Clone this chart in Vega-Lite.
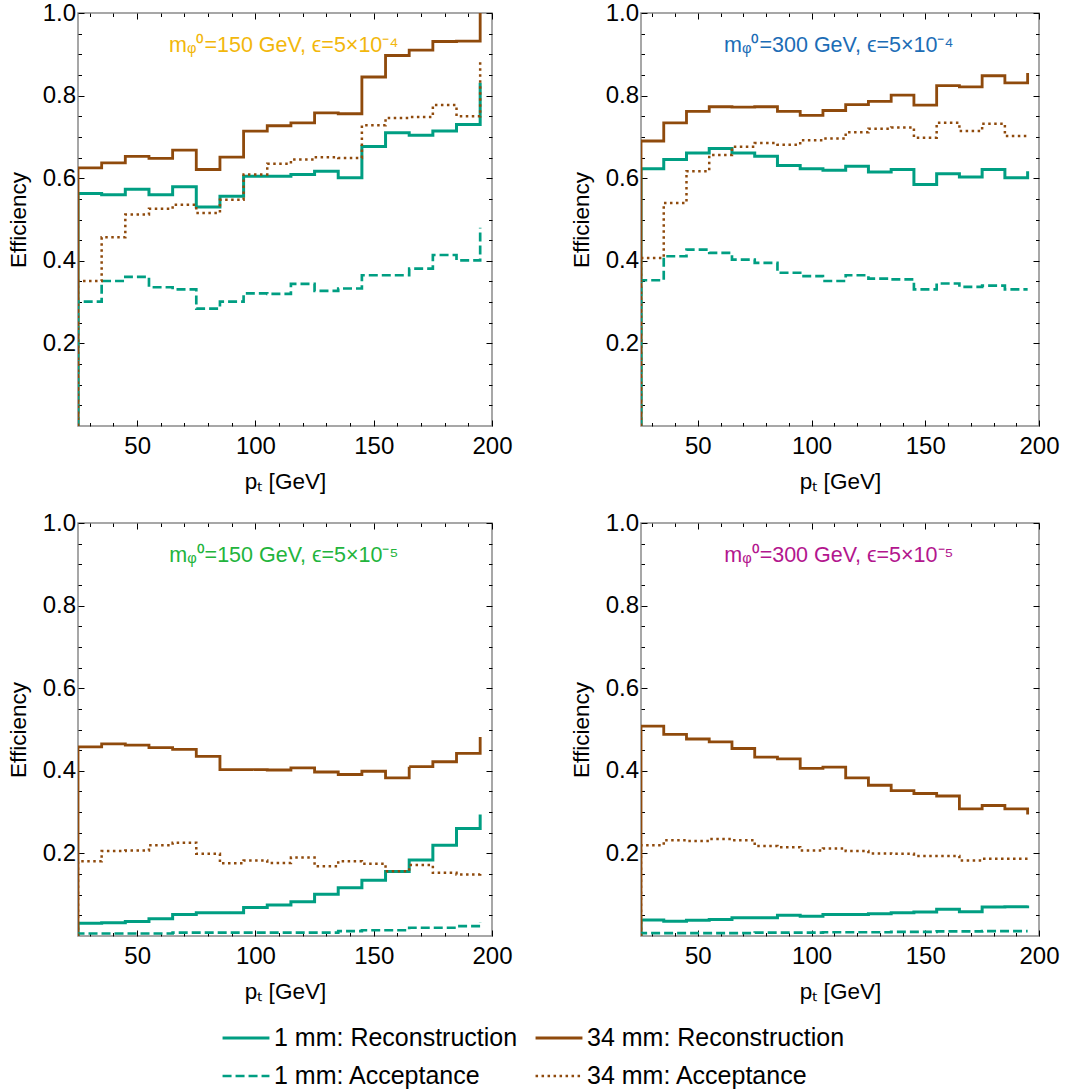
{
"$schema": "https://vega.github.io/schema/vega-lite/v6.json",
"padding": {"left": 6, "top": 0, "right": 0, "bottom": 0},
"datasets": {
"notes": [
{"panel":1,"pt":112,"eff":0.92,"label":"mᵩ⁰=150 GeV, ϵ=5×10⁻⁴"},
{"panel":2,"pt":112,"eff":0.92,"label":"mᵩ⁰=300 GeV, ϵ=5×10⁻⁴"},
{"panel":3,"pt":112,"eff":0.92,"label":"mᵩ⁰=150 GeV, ϵ=5×10⁻⁵"},
{"panel":4,"pt":112,"eff":0.92,"label":"mᵩ⁰=300 GeV, ϵ=5×10⁻⁵"}
],
"curves": [
{"panel":1,"series":"1 mm: Reconstruction","i":0,"pt":25,"eff":0},
{"panel":1,"series":"1 mm: Reconstruction","i":1,"pt":25,"eff":0.563},
{"panel":1,"series":"1 mm: Reconstruction","i":2,"pt":35,"eff":0.560},
{"panel":1,"series":"1 mm: Reconstruction","i":3,"pt":45,"eff":0.573},
{"panel":1,"series":"1 mm: Reconstruction","i":4,"pt":55,"eff":0.560},
{"panel":1,"series":"1 mm: Reconstruction","i":5,"pt":65,"eff":0.579},
{"panel":1,"series":"1 mm: Reconstruction","i":6,"pt":75,"eff":0.530},
{"panel":1,"series":"1 mm: Reconstruction","i":7,"pt":85,"eff":0.556},
{"panel":1,"series":"1 mm: Reconstruction","i":8,"pt":95,"eff":0.605},
{"panel":1,"series":"1 mm: Reconstruction","i":9,"pt":105,"eff":0.605},
{"panel":1,"series":"1 mm: Reconstruction","i":10,"pt":115,"eff":0.609},
{"panel":1,"series":"1 mm: Reconstruction","i":11,"pt":125,"eff":0.617},
{"panel":1,"series":"1 mm: Reconstruction","i":12,"pt":135,"eff":0.601},
{"panel":1,"series":"1 mm: Reconstruction","i":13,"pt":145,"eff":0.677},
{"panel":1,"series":"1 mm: Reconstruction","i":14,"pt":155,"eff":0.710},
{"panel":1,"series":"1 mm: Reconstruction","i":15,"pt":165,"eff":0.704},
{"panel":1,"series":"1 mm: Reconstruction","i":16,"pt":175,"eff":0.714},
{"panel":1,"series":"1 mm: Reconstruction","i":17,"pt":185,"eff":0.730},
{"panel":1,"series":"1 mm: Reconstruction","i":18,"pt":195,"eff":0.831},
{"panel":1,"series":"34 mm: Reconstruction","i":0,"pt":25,"eff":0},
{"panel":1,"series":"34 mm: Reconstruction","i":1,"pt":25,"eff":0.625},
{"panel":1,"series":"34 mm: Reconstruction","i":2,"pt":35,"eff":0.637},
{"panel":1,"series":"34 mm: Reconstruction","i":3,"pt":45,"eff":0.653},
{"panel":1,"series":"34 mm: Reconstruction","i":4,"pt":55,"eff":0.648},
{"panel":1,"series":"34 mm: Reconstruction","i":5,"pt":65,"eff":0.668},
{"panel":1,"series":"34 mm: Reconstruction","i":6,"pt":75,"eff":0.621},
{"panel":1,"series":"34 mm: Reconstruction","i":7,"pt":85,"eff":0.651},
{"panel":1,"series":"34 mm: Reconstruction","i":8,"pt":95,"eff":0.714},
{"panel":1,"series":"34 mm: Reconstruction","i":9,"pt":105,"eff":0.727},
{"panel":1,"series":"34 mm: Reconstruction","i":10,"pt":115,"eff":0.734},
{"panel":1,"series":"34 mm: Reconstruction","i":11,"pt":125,"eff":0.758},
{"panel":1,"series":"34 mm: Reconstruction","i":12,"pt":135,"eff":0.756},
{"panel":1,"series":"34 mm: Reconstruction","i":13,"pt":145,"eff":0.845},
{"panel":1,"series":"34 mm: Reconstruction","i":14,"pt":155,"eff":0.897},
{"panel":1,"series":"34 mm: Reconstruction","i":15,"pt":165,"eff":0.910},
{"panel":1,"series":"34 mm: Reconstruction","i":16,"pt":175,"eff":0.931},
{"panel":1,"series":"34 mm: Reconstruction","i":17,"pt":185,"eff":0.932},
{"panel":1,"series":"34 mm: Reconstruction","i":18,"pt":195,"eff":1.0},
{"panel":1,"series":"1 mm: Acceptance","i":0,"pt":25,"eff":0},
{"panel":1,"series":"1 mm: Acceptance","i":1,"pt":25,"eff":0.301},
{"panel":1,"series":"1 mm: Acceptance","i":2,"pt":35,"eff":0.351},
{"panel":1,"series":"1 mm: Acceptance","i":3,"pt":45,"eff":0.361},
{"panel":1,"series":"1 mm: Acceptance","i":4,"pt":55,"eff":0.336},
{"panel":1,"series":"1 mm: Acceptance","i":5,"pt":65,"eff":0.331},
{"panel":1,"series":"1 mm: Acceptance","i":6,"pt":75,"eff":0.284},
{"panel":1,"series":"1 mm: Acceptance","i":7,"pt":85,"eff":0.301},
{"panel":1,"series":"1 mm: Acceptance","i":8,"pt":95,"eff":0.321},
{"panel":1,"series":"1 mm: Acceptance","i":9,"pt":105,"eff":0.320},
{"panel":1,"series":"1 mm: Acceptance","i":10,"pt":115,"eff":0.344},
{"panel":1,"series":"1 mm: Acceptance","i":11,"pt":125,"eff":0.327},
{"panel":1,"series":"1 mm: Acceptance","i":12,"pt":135,"eff":0.333},
{"panel":1,"series":"1 mm: Acceptance","i":13,"pt":145,"eff":0.365},
{"panel":1,"series":"1 mm: Acceptance","i":14,"pt":155,"eff":0.365},
{"panel":1,"series":"1 mm: Acceptance","i":15,"pt":165,"eff":0.381},
{"panel":1,"series":"1 mm: Acceptance","i":16,"pt":175,"eff":0.414},
{"panel":1,"series":"1 mm: Acceptance","i":17,"pt":185,"eff":0.401},
{"panel":1,"series":"1 mm: Acceptance","i":18,"pt":195,"eff":0.480},
{"panel":1,"series":"34 mm: Acceptance","i":0,"pt":25,"eff":0},
{"panel":1,"series":"34 mm: Acceptance","i":1,"pt":25,"eff":0.351},
{"panel":1,"series":"34 mm: Acceptance","i":2,"pt":35,"eff":0.457},
{"panel":1,"series":"34 mm: Acceptance","i":3,"pt":45,"eff":0.512},
{"panel":1,"series":"34 mm: Acceptance","i":4,"pt":55,"eff":0.526},
{"panel":1,"series":"34 mm: Acceptance","i":5,"pt":65,"eff":0.536},
{"panel":1,"series":"34 mm: Acceptance","i":6,"pt":75,"eff":0.516},
{"panel":1,"series":"34 mm: Acceptance","i":7,"pt":85,"eff":0.548},
{"panel":1,"series":"34 mm: Acceptance","i":8,"pt":95,"eff":0.609},
{"panel":1,"series":"34 mm: Acceptance","i":9,"pt":105,"eff":0.635},
{"panel":1,"series":"34 mm: Acceptance","i":10,"pt":115,"eff":0.645},
{"panel":1,"series":"34 mm: Acceptance","i":11,"pt":125,"eff":0.651},
{"panel":1,"series":"34 mm: Acceptance","i":12,"pt":135,"eff":0.649},
{"panel":1,"series":"34 mm: Acceptance","i":13,"pt":145,"eff":0.728},
{"panel":1,"series":"34 mm: Acceptance","i":14,"pt":155,"eff":0.746},
{"panel":1,"series":"34 mm: Acceptance","i":15,"pt":165,"eff":0.748},
{"panel":1,"series":"34 mm: Acceptance","i":16,"pt":175,"eff":0.777},
{"panel":1,"series":"34 mm: Acceptance","i":17,"pt":185,"eff":0.750},
{"panel":1,"series":"34 mm: Acceptance","i":18,"pt":195,"eff":0.883},
{"panel":2,"series":"1 mm: Reconstruction","i":0,"pt":25,"eff":0},
{"panel":2,"series":"1 mm: Reconstruction","i":1,"pt":25,"eff":0.623},
{"panel":2,"series":"1 mm: Reconstruction","i":2,"pt":35,"eff":0.645},
{"panel":2,"series":"1 mm: Reconstruction","i":3,"pt":45,"eff":0.661},
{"panel":2,"series":"1 mm: Reconstruction","i":4,"pt":55,"eff":0.672},
{"panel":2,"series":"1 mm: Reconstruction","i":5,"pt":65,"eff":0.661},
{"panel":2,"series":"1 mm: Reconstruction","i":6,"pt":75,"eff":0.653},
{"panel":2,"series":"1 mm: Reconstruction","i":7,"pt":85,"eff":0.631},
{"panel":2,"series":"1 mm: Reconstruction","i":8,"pt":95,"eff":0.623},
{"panel":2,"series":"1 mm: Reconstruction","i":9,"pt":105,"eff":0.619},
{"panel":2,"series":"1 mm: Reconstruction","i":10,"pt":115,"eff":0.629},
{"panel":2,"series":"1 mm: Reconstruction","i":11,"pt":125,"eff":0.615},
{"panel":2,"series":"1 mm: Reconstruction","i":12,"pt":135,"eff":0.621},
{"panel":2,"series":"1 mm: Reconstruction","i":13,"pt":145,"eff":0.585},
{"panel":2,"series":"1 mm: Reconstruction","i":14,"pt":155,"eff":0.611},
{"panel":2,"series":"1 mm: Reconstruction","i":15,"pt":165,"eff":0.603},
{"panel":2,"series":"1 mm: Reconstruction","i":16,"pt":175,"eff":0.621},
{"panel":2,"series":"1 mm: Reconstruction","i":17,"pt":185,"eff":0.601},
{"panel":2,"series":"1 mm: Reconstruction","i":18,"pt":195,"eff":0.617},
{"panel":2,"series":"34 mm: Reconstruction","i":0,"pt":25,"eff":0},
{"panel":2,"series":"34 mm: Reconstruction","i":1,"pt":25,"eff":0.690},
{"panel":2,"series":"34 mm: Reconstruction","i":2,"pt":35,"eff":0.734},
{"panel":2,"series":"34 mm: Reconstruction","i":3,"pt":45,"eff":0.762},
{"panel":2,"series":"34 mm: Reconstruction","i":4,"pt":55,"eff":0.773},
{"panel":2,"series":"34 mm: Reconstruction","i":5,"pt":65,"eff":0.772},
{"panel":2,"series":"34 mm: Reconstruction","i":6,"pt":75,"eff":0.773},
{"panel":2,"series":"34 mm: Reconstruction","i":7,"pt":85,"eff":0.762},
{"panel":2,"series":"34 mm: Reconstruction","i":8,"pt":95,"eff":0.752},
{"panel":2,"series":"34 mm: Reconstruction","i":9,"pt":105,"eff":0.764},
{"panel":2,"series":"34 mm: Reconstruction","i":10,"pt":115,"eff":0.778},
{"panel":2,"series":"34 mm: Reconstruction","i":11,"pt":125,"eff":0.786},
{"panel":2,"series":"34 mm: Reconstruction","i":12,"pt":135,"eff":0.801},
{"panel":2,"series":"34 mm: Reconstruction","i":13,"pt":145,"eff":0.777},
{"panel":2,"series":"34 mm: Reconstruction","i":14,"pt":155,"eff":0.824},
{"panel":2,"series":"34 mm: Reconstruction","i":15,"pt":165,"eff":0.821},
{"panel":2,"series":"34 mm: Reconstruction","i":16,"pt":175,"eff":0.848},
{"panel":2,"series":"34 mm: Reconstruction","i":17,"pt":185,"eff":0.831},
{"panel":2,"series":"34 mm: Reconstruction","i":18,"pt":195,"eff":0.855},
{"panel":2,"series":"1 mm: Acceptance","i":0,"pt":25,"eff":0},
{"panel":2,"series":"1 mm: Acceptance","i":1,"pt":25,"eff":0.353},
{"panel":2,"series":"1 mm: Acceptance","i":2,"pt":35,"eff":0.411},
{"panel":2,"series":"1 mm: Acceptance","i":3,"pt":45,"eff":0.427},
{"panel":2,"series":"1 mm: Acceptance","i":4,"pt":55,"eff":0.419},
{"panel":2,"series":"1 mm: Acceptance","i":5,"pt":65,"eff":0.403},
{"panel":2,"series":"1 mm: Acceptance","i":6,"pt":75,"eff":0.395},
{"panel":2,"series":"1 mm: Acceptance","i":7,"pt":85,"eff":0.371},
{"panel":2,"series":"1 mm: Acceptance","i":8,"pt":95,"eff":0.363},
{"panel":2,"series":"1 mm: Acceptance","i":9,"pt":105,"eff":0.351},
{"panel":2,"series":"1 mm: Acceptance","i":10,"pt":115,"eff":0.365},
{"panel":2,"series":"1 mm: Acceptance","i":11,"pt":125,"eff":0.357},
{"panel":2,"series":"1 mm: Acceptance","i":12,"pt":135,"eff":0.355},
{"panel":2,"series":"1 mm: Acceptance","i":13,"pt":145,"eff":0.331},
{"panel":2,"series":"1 mm: Acceptance","i":14,"pt":155,"eff":0.345},
{"panel":2,"series":"1 mm: Acceptance","i":15,"pt":165,"eff":0.337},
{"panel":2,"series":"1 mm: Acceptance","i":16,"pt":175,"eff":0.340},
{"panel":2,"series":"1 mm: Acceptance","i":17,"pt":185,"eff":0.331},
{"panel":2,"series":"1 mm: Acceptance","i":18,"pt":195,"eff":0.331},
{"panel":2,"series":"34 mm: Acceptance","i":0,"pt":25,"eff":0},
{"panel":2,"series":"34 mm: Acceptance","i":1,"pt":25,"eff":0.407},
{"panel":2,"series":"34 mm: Acceptance","i":2,"pt":35,"eff":0.540},
{"panel":2,"series":"34 mm: Acceptance","i":3,"pt":45,"eff":0.617},
{"panel":2,"series":"34 mm: Acceptance","i":4,"pt":55,"eff":0.656},
{"panel":2,"series":"34 mm: Acceptance","i":5,"pt":65,"eff":0.676},
{"panel":2,"series":"34 mm: Acceptance","i":6,"pt":75,"eff":0.685},
{"panel":2,"series":"34 mm: Acceptance","i":7,"pt":85,"eff":0.681},
{"panel":2,"series":"34 mm: Acceptance","i":8,"pt":95,"eff":0.692},
{"panel":2,"series":"34 mm: Acceptance","i":9,"pt":105,"eff":0.696},
{"panel":2,"series":"34 mm: Acceptance","i":10,"pt":115,"eff":0.711},
{"panel":2,"series":"34 mm: Acceptance","i":11,"pt":125,"eff":0.720},
{"panel":2,"series":"34 mm: Acceptance","i":12,"pt":135,"eff":0.723},
{"panel":2,"series":"34 mm: Acceptance","i":13,"pt":145,"eff":0.698},
{"panel":2,"series":"34 mm: Acceptance","i":14,"pt":155,"eff":0.734},
{"panel":2,"series":"34 mm: Acceptance","i":15,"pt":165,"eff":0.714},
{"panel":2,"series":"34 mm: Acceptance","i":16,"pt":175,"eff":0.732},
{"panel":2,"series":"34 mm: Acceptance","i":17,"pt":185,"eff":0.702},
{"panel":2,"series":"34 mm: Acceptance","i":18,"pt":195,"eff":0.702},
{"panel":3,"series":"1 mm: Reconstruction","i":0,"pt":25,"eff":0},
{"panel":3,"series":"1 mm: Reconstruction","i":1,"pt":25,"eff":0.031},
{"panel":3,"series":"1 mm: Reconstruction","i":2,"pt":35,"eff":0.032},
{"panel":3,"series":"1 mm: Reconstruction","i":3,"pt":45,"eff":0.035},
{"panel":3,"series":"1 mm: Reconstruction","i":4,"pt":55,"eff":0.042},
{"panel":3,"series":"1 mm: Reconstruction","i":5,"pt":65,"eff":0.052},
{"panel":3,"series":"1 mm: Reconstruction","i":6,"pt":75,"eff":0.056},
{"panel":3,"series":"1 mm: Reconstruction","i":7,"pt":85,"eff":0.056},
{"panel":3,"series":"1 mm: Reconstruction","i":8,"pt":95,"eff":0.069},
{"panel":3,"series":"1 mm: Reconstruction","i":9,"pt":105,"eff":0.075},
{"panel":3,"series":"1 mm: Reconstruction","i":10,"pt":115,"eff":0.083},
{"panel":3,"series":"1 mm: Reconstruction","i":11,"pt":125,"eff":0.101},
{"panel":3,"series":"1 mm: Reconstruction","i":12,"pt":135,"eff":0.117},
{"panel":3,"series":"1 mm: Reconstruction","i":13,"pt":145,"eff":0.135},
{"panel":3,"series":"1 mm: Reconstruction","i":14,"pt":155,"eff":0.156},
{"panel":3,"series":"1 mm: Reconstruction","i":15,"pt":165,"eff":0.184},
{"panel":3,"series":"1 mm: Reconstruction","i":16,"pt":175,"eff":0.220},
{"panel":3,"series":"1 mm: Reconstruction","i":17,"pt":185,"eff":0.260},
{"panel":3,"series":"1 mm: Reconstruction","i":18,"pt":195,"eff":0.294},
{"panel":3,"series":"34 mm: Reconstruction","i":0,"pt":25,"eff":0},
{"panel":3,"series":"34 mm: Reconstruction","i":1,"pt":25,"eff":0.458},
{"panel":3,"series":"34 mm: Reconstruction","i":2,"pt":35,"eff":0.465},
{"panel":3,"series":"34 mm: Reconstruction","i":3,"pt":45,"eff":0.462},
{"panel":3,"series":"34 mm: Reconstruction","i":4,"pt":55,"eff":0.456},
{"panel":3,"series":"34 mm: Reconstruction","i":5,"pt":65,"eff":0.452},
{"panel":3,"series":"34 mm: Reconstruction","i":6,"pt":75,"eff":0.435},
{"panel":3,"series":"34 mm: Reconstruction","i":7,"pt":85,"eff":0.403},
{"panel":3,"series":"34 mm: Reconstruction","i":8,"pt":95,"eff":0.403},
{"panel":3,"series":"34 mm: Reconstruction","i":9,"pt":105,"eff":0.402},
{"panel":3,"series":"34 mm: Reconstruction","i":10,"pt":115,"eff":0.407},
{"panel":3,"series":"34 mm: Reconstruction","i":11,"pt":125,"eff":0.397},
{"panel":3,"series":"34 mm: Reconstruction","i":12,"pt":135,"eff":0.391},
{"panel":3,"series":"34 mm: Reconstruction","i":13,"pt":145,"eff":0.399},
{"panel":3,"series":"34 mm: Reconstruction","i":14,"pt":155,"eff":0.383},
{"panel":3,"series":"34 mm: Reconstruction","i":15,"pt":165,"eff":0.410},
{"panel":3,"series":"34 mm: Reconstruction","i":16,"pt":175,"eff":0.422},
{"panel":3,"series":"34 mm: Reconstruction","i":17,"pt":185,"eff":0.442},
{"panel":3,"series":"34 mm: Reconstruction","i":18,"pt":195,"eff":0.482},
{"panel":3,"series":"1 mm: Acceptance","i":0,"pt":25,"eff":0},
{"panel":3,"series":"1 mm: Acceptance","i":1,"pt":25,"eff":0.006},
{"panel":3,"series":"1 mm: Acceptance","i":2,"pt":35,"eff":0.006},
{"panel":3,"series":"1 mm: Acceptance","i":3,"pt":45,"eff":0.006},
{"panel":3,"series":"1 mm: Acceptance","i":4,"pt":55,"eff":0.006},
{"panel":3,"series":"1 mm: Acceptance","i":5,"pt":65,"eff":0.008},
{"panel":3,"series":"1 mm: Acceptance","i":6,"pt":75,"eff":0.008},
{"panel":3,"series":"1 mm: Acceptance","i":7,"pt":85,"eff":0.008},
{"panel":3,"series":"1 mm: Acceptance","i":8,"pt":95,"eff":0.008},
{"panel":3,"series":"1 mm: Acceptance","i":9,"pt":105,"eff":0.008},
{"panel":3,"series":"1 mm: Acceptance","i":10,"pt":115,"eff":0.008},
{"panel":3,"series":"1 mm: Acceptance","i":11,"pt":125,"eff":0.008},
{"panel":3,"series":"1 mm: Acceptance","i":12,"pt":135,"eff":0.012},
{"panel":3,"series":"1 mm: Acceptance","i":13,"pt":145,"eff":0.014},
{"panel":3,"series":"1 mm: Acceptance","i":14,"pt":155,"eff":0.014},
{"panel":3,"series":"1 mm: Acceptance","i":15,"pt":165,"eff":0.020},
{"panel":3,"series":"1 mm: Acceptance","i":16,"pt":175,"eff":0.020},
{"panel":3,"series":"1 mm: Acceptance","i":17,"pt":185,"eff":0.024},
{"panel":3,"series":"1 mm: Acceptance","i":18,"pt":195,"eff":0.034},
{"panel":3,"series":"34 mm: Acceptance","i":0,"pt":25,"eff":0},
{"panel":3,"series":"34 mm: Acceptance","i":1,"pt":25,"eff":0.181},
{"panel":3,"series":"34 mm: Acceptance","i":2,"pt":35,"eff":0.206},
{"panel":3,"series":"34 mm: Acceptance","i":3,"pt":45,"eff":0.207},
{"panel":3,"series":"34 mm: Acceptance","i":4,"pt":55,"eff":0.220},
{"panel":3,"series":"34 mm: Acceptance","i":5,"pt":65,"eff":0.226},
{"panel":3,"series":"34 mm: Acceptance","i":6,"pt":75,"eff":0.199},
{"panel":3,"series":"34 mm: Acceptance","i":7,"pt":85,"eff":0.176},
{"panel":3,"series":"34 mm: Acceptance","i":8,"pt":95,"eff":0.183},
{"panel":3,"series":"34 mm: Acceptance","i":9,"pt":105,"eff":0.177},
{"panel":3,"series":"34 mm: Acceptance","i":10,"pt":115,"eff":0.190},
{"panel":3,"series":"34 mm: Acceptance","i":11,"pt":125,"eff":0.169},
{"panel":3,"series":"34 mm: Acceptance","i":12,"pt":135,"eff":0.181},
{"panel":3,"series":"34 mm: Acceptance","i":13,"pt":145,"eff":0.175},
{"panel":3,"series":"34 mm: Acceptance","i":14,"pt":155,"eff":0.157},
{"panel":3,"series":"34 mm: Acceptance","i":15,"pt":165,"eff":0.172},
{"panel":3,"series":"34 mm: Acceptance","i":16,"pt":175,"eff":0.153},
{"panel":3,"series":"34 mm: Acceptance","i":17,"pt":185,"eff":0.149},
{"panel":3,"series":"34 mm: Acceptance","i":18,"pt":195,"eff":0.157},
{"panel":4,"series":"1 mm: Reconstruction","i":0,"pt":25,"eff":0},
{"panel":4,"series":"1 mm: Reconstruction","i":1,"pt":25,"eff":0.039},
{"panel":4,"series":"1 mm: Reconstruction","i":2,"pt":35,"eff":0.036},
{"panel":4,"series":"1 mm: Reconstruction","i":3,"pt":45,"eff":0.038},
{"panel":4,"series":"1 mm: Reconstruction","i":4,"pt":55,"eff":0.040},
{"panel":4,"series":"1 mm: Reconstruction","i":5,"pt":65,"eff":0.044},
{"panel":4,"series":"1 mm: Reconstruction","i":6,"pt":75,"eff":0.044},
{"panel":4,"series":"1 mm: Reconstruction","i":7,"pt":85,"eff":0.050},
{"panel":4,"series":"1 mm: Reconstruction","i":8,"pt":95,"eff":0.048},
{"panel":4,"series":"1 mm: Reconstruction","i":9,"pt":105,"eff":0.052},
{"panel":4,"series":"1 mm: Reconstruction","i":10,"pt":115,"eff":0.052},
{"panel":4,"series":"1 mm: Reconstruction","i":11,"pt":125,"eff":0.054},
{"panel":4,"series":"1 mm: Reconstruction","i":12,"pt":135,"eff":0.056},
{"panel":4,"series":"1 mm: Reconstruction","i":13,"pt":145,"eff":0.058},
{"panel":4,"series":"1 mm: Reconstruction","i":14,"pt":155,"eff":0.065},
{"panel":4,"series":"1 mm: Reconstruction","i":15,"pt":165,"eff":0.059},
{"panel":4,"series":"1 mm: Reconstruction","i":16,"pt":175,"eff":0.070},
{"panel":4,"series":"1 mm: Reconstruction","i":17,"pt":185,"eff":0.071},
{"panel":4,"series":"1 mm: Reconstruction","i":18,"pt":195,"eff":0.074},
{"panel":4,"series":"34 mm: Reconstruction","i":0,"pt":25,"eff":0},
{"panel":4,"series":"34 mm: Reconstruction","i":1,"pt":25,"eff":0.508},
{"panel":4,"series":"34 mm: Reconstruction","i":2,"pt":35,"eff":0.488},
{"panel":4,"series":"34 mm: Reconstruction","i":3,"pt":45,"eff":0.477},
{"panel":4,"series":"34 mm: Reconstruction","i":4,"pt":55,"eff":0.470},
{"panel":4,"series":"34 mm: Reconstruction","i":5,"pt":65,"eff":0.454},
{"panel":4,"series":"34 mm: Reconstruction","i":6,"pt":75,"eff":0.433},
{"panel":4,"series":"34 mm: Reconstruction","i":7,"pt":85,"eff":0.429},
{"panel":4,"series":"34 mm: Reconstruction","i":8,"pt":95,"eff":0.406},
{"panel":4,"series":"34 mm: Reconstruction","i":9,"pt":105,"eff":0.409},
{"panel":4,"series":"34 mm: Reconstruction","i":10,"pt":115,"eff":0.383},
{"panel":4,"series":"34 mm: Reconstruction","i":11,"pt":125,"eff":0.365},
{"panel":4,"series":"34 mm: Reconstruction","i":12,"pt":135,"eff":0.352},
{"panel":4,"series":"34 mm: Reconstruction","i":13,"pt":145,"eff":0.345},
{"panel":4,"series":"34 mm: Reconstruction","i":14,"pt":155,"eff":0.339},
{"panel":4,"series":"34 mm: Reconstruction","i":15,"pt":165,"eff":0.308},
{"panel":4,"series":"34 mm: Reconstruction","i":16,"pt":175,"eff":0.316},
{"panel":4,"series":"34 mm: Reconstruction","i":17,"pt":185,"eff":0.308},
{"panel":4,"series":"34 mm: Reconstruction","i":18,"pt":195,"eff":0.294},
{"panel":4,"series":"1 mm: Acceptance","i":0,"pt":25,"eff":0},
{"panel":4,"series":"1 mm: Acceptance","i":1,"pt":25,"eff":0.007},
{"panel":4,"series":"1 mm: Acceptance","i":2,"pt":35,"eff":0.007},
{"panel":4,"series":"1 mm: Acceptance","i":3,"pt":45,"eff":0.007},
{"panel":4,"series":"1 mm: Acceptance","i":4,"pt":55,"eff":0.007},
{"panel":4,"series":"1 mm: Acceptance","i":5,"pt":65,"eff":0.007},
{"panel":4,"series":"1 mm: Acceptance","i":6,"pt":75,"eff":0.008},
{"panel":4,"series":"1 mm: Acceptance","i":7,"pt":85,"eff":0.008},
{"panel":4,"series":"1 mm: Acceptance","i":8,"pt":95,"eff":0.008},
{"panel":4,"series":"1 mm: Acceptance","i":9,"pt":105,"eff":0.009},
{"panel":4,"series":"1 mm: Acceptance","i":10,"pt":115,"eff":0.009},
{"panel":4,"series":"1 mm: Acceptance","i":11,"pt":125,"eff":0.009},
{"panel":4,"series":"1 mm: Acceptance","i":12,"pt":135,"eff":0.010},
{"panel":4,"series":"1 mm: Acceptance","i":13,"pt":145,"eff":0.010},
{"panel":4,"series":"1 mm: Acceptance","i":14,"pt":155,"eff":0.011},
{"panel":4,"series":"1 mm: Acceptance","i":15,"pt":165,"eff":0.011},
{"panel":4,"series":"1 mm: Acceptance","i":16,"pt":175,"eff":0.012},
{"panel":4,"series":"1 mm: Acceptance","i":17,"pt":185,"eff":0.012},
{"panel":4,"series":"1 mm: Acceptance","i":18,"pt":195,"eff":0.012},
{"panel":4,"series":"34 mm: Acceptance","i":0,"pt":25,"eff":0},
{"panel":4,"series":"34 mm: Acceptance","i":1,"pt":25,"eff":0.220},
{"panel":4,"series":"34 mm: Acceptance","i":2,"pt":35,"eff":0.232},
{"panel":4,"series":"34 mm: Acceptance","i":3,"pt":45,"eff":0.230},
{"panel":4,"series":"34 mm: Acceptance","i":4,"pt":55,"eff":0.235},
{"panel":4,"series":"34 mm: Acceptance","i":5,"pt":65,"eff":0.232},
{"panel":4,"series":"34 mm: Acceptance","i":6,"pt":75,"eff":0.218},
{"panel":4,"series":"34 mm: Acceptance","i":7,"pt":85,"eff":0.215},
{"panel":4,"series":"34 mm: Acceptance","i":8,"pt":95,"eff":0.207},
{"panel":4,"series":"34 mm: Acceptance","i":9,"pt":105,"eff":0.212},
{"panel":4,"series":"34 mm: Acceptance","i":10,"pt":115,"eff":0.206},
{"panel":4,"series":"34 mm: Acceptance","i":11,"pt":125,"eff":0.200},
{"panel":4,"series":"34 mm: Acceptance","i":12,"pt":135,"eff":0.199},
{"panel":4,"series":"34 mm: Acceptance","i":13,"pt":145,"eff":0.194},
{"panel":4,"series":"34 mm: Acceptance","i":14,"pt":155,"eff":0.194},
{"panel":4,"series":"34 mm: Acceptance","i":15,"pt":165,"eff":0.183},
{"panel":4,"series":"34 mm: Acceptance","i":16,"pt":175,"eff":0.187},
{"panel":4,"series":"34 mm: Acceptance","i":17,"pt":185,"eff":0.187},
{"panel":4,"series":"34 mm: Acceptance","i":18,"pt":195,"eff":0.187}
]
},
"vconcat": [
{"hconcat": [
{"width": 414, "height": 413,
 "layer": [
  {"data": {"name": "curves"}, "transform": [{"filter": "datum.panel == 1"}],
   "mark": {"type": "line", "interpolate": "step-after", "clip": true},
   "encoding": {
    "x": {"field": "pt", "type": "quantitative", "scale": {"domain": [25, 200], "nice": false, "zero": false},
          "axis": {"values": [30,40,50,60,70,80,90,100,110,120,130,140,150,160,170,180,190,200], "labelExpr": "datum.value % 50 == 0 ? datum.label : ''", "tickSize": {"condition": {"test": "datum.value % 50 == 0", "value": -6}, "value": -3.5}, "labelPadding": 14, "title": "pₜ [GeV]", "titlePadding": 10}},
    "y": {"field": "eff", "type": "quantitative", "scale": {"domain": [0, 1], "nice": false},
          "axis": {"values": [0.05,0.1,0.15,0.2,0.25,0.3,0.35,0.4,0.45,0.5,0.55,0.6,0.65,0.7,0.75,0.8,0.85,0.9,0.95,1.0], "labelExpr": "abs(datum.value*5-round(datum.value*5)) < 0.001 ? format(datum.value, '.1f') : ''", "tickSize": {"condition": {"test": "abs(datum.value*5-round(datum.value*5)) < 0.001", "value": -6}, "value": -3.5}, "labelPadding": 8.5, "title": "Efficiency", "titlePadding": 12}},
    "color": {"field": "series", "type": "nominal", "scale": {"domain": ["1 mm: Reconstruction", "34 mm: Reconstruction", "1 mm: Acceptance", "34 mm: Acceptance"], "range": ["#009e82", "#8f4a0c", "#009e82", "#8f4a0c"]}, "legend": {"title": null}},
    "strokeDash": {"field": "series", "type": "nominal", "scale": {"domain": ["1 mm: Reconstruction", "34 mm: Reconstruction", "1 mm: Acceptance", "34 mm: Acceptance"], "range": [[1,0],[1,0],[9,4],[2.5,3.5]]}, "legend": {"title": null}},
    "strokeWidth": {"field": "series", "type": "nominal", "scale": {"domain": ["1 mm: Reconstruction", "34 mm: Reconstruction", "1 mm: Acceptance", "34 mm: Acceptance"], "range": [3, 2.5, 2.8, 2.2]}, "legend": null},
    "order": {"field": "i", "type": "quantitative"}
   }},
  {"data": {"name": "notes"}, "transform": [{"filter": "datum.panel == 1"}],
   "mark": {"type": "text", "fontSize": 21.5, "color": "#f2b70c", "align": "center", "baseline": "middle"},
   "encoding": {
    "x": {"field": "pt", "type": "quantitative", "scale": {"domain": [25, 200], "nice": false, "zero": false},
          "axis": {"orient": "top", "values": [30,40,50,60,70,80,90,100,110,120,130,140,150,160,170,180,190,200], "labels": false, "title": null, "tickSize": {"condition": {"test": "datum.value % 50 == 0", "value": -6}, "value": -3.5}}},
    "y": {"field": "eff", "type": "quantitative", "scale": {"domain": [0, 1], "nice": false},
          "axis": {"orient": "right", "values": [0.05,0.1,0.15,0.2,0.25,0.3,0.35,0.4,0.45,0.5,0.55,0.6,0.65,0.7,0.75,0.8,0.85,0.9,0.95,1.0], "labels": false, "title": null, "tickSize": {"condition": {"test": "abs(datum.value*5-round(datum.value*5)) < 0.001", "value": -6}, "value": -3.5}}},
    "text": {"field": "label"}
   }}
 ],
 "resolve": {"axis": {"x": "independent", "y": "independent"}}
},
{"width": 398, "height": 413,
 "layer": [
  {"data": {"name": "curves"}, "transform": [{"filter": "datum.panel == 2"}],
   "mark": {"type": "line", "interpolate": "step-after", "clip": true},
   "encoding": {
    "x": {"field": "pt", "type": "quantitative", "scale": {"domain": [25, 200], "nice": false, "zero": false},
          "axis": {"values": [30,40,50,60,70,80,90,100,110,120,130,140,150,160,170,180,190,200], "labelExpr": "datum.value % 50 == 0 ? datum.label : ''", "tickSize": {"condition": {"test": "datum.value % 50 == 0", "value": -6}, "value": -3.5}, "labelPadding": 14, "title": "pₜ [GeV]", "titlePadding": 10}},
    "y": {"field": "eff", "type": "quantitative", "scale": {"domain": [0, 1], "nice": false},
          "axis": {"values": [0.05,0.1,0.15,0.2,0.25,0.3,0.35,0.4,0.45,0.5,0.55,0.6,0.65,0.7,0.75,0.8,0.85,0.9,0.95,1.0], "labelExpr": "abs(datum.value*5-round(datum.value*5)) < 0.001 ? format(datum.value, '.1f') : ''", "tickSize": {"condition": {"test": "abs(datum.value*5-round(datum.value*5)) < 0.001", "value": -6}, "value": -3.5}, "labelPadding": 8.5, "title": "Efficiency", "titlePadding": 12}},
    "color": {"field": "series", "type": "nominal", "scale": {"domain": ["1 mm: Reconstruction", "34 mm: Reconstruction", "1 mm: Acceptance", "34 mm: Acceptance"], "range": ["#009e82", "#8f4a0c", "#009e82", "#8f4a0c"]}, "legend": {"title": null}},
    "strokeDash": {"field": "series", "type": "nominal", "scale": {"domain": ["1 mm: Reconstruction", "34 mm: Reconstruction", "1 mm: Acceptance", "34 mm: Acceptance"], "range": [[1,0],[1,0],[9,4],[2.5,3.5]]}, "legend": {"title": null}},
    "strokeWidth": {"field": "series", "type": "nominal", "scale": {"domain": ["1 mm: Reconstruction", "34 mm: Reconstruction", "1 mm: Acceptance", "34 mm: Acceptance"], "range": [3, 2.5, 2.8, 2.2]}, "legend": null},
    "order": {"field": "i", "type": "quantitative"}
   }},
  {"data": {"name": "notes"}, "transform": [{"filter": "datum.panel == 2"}],
   "mark": {"type": "text", "fontSize": 21.5, "color": "#1c6db6", "align": "center", "baseline": "middle"},
   "encoding": {
    "x": {"field": "pt", "type": "quantitative", "scale": {"domain": [25, 200], "nice": false, "zero": false},
          "axis": {"orient": "top", "values": [30,40,50,60,70,80,90,100,110,120,130,140,150,160,170,180,190,200], "labels": false, "title": null, "tickSize": {"condition": {"test": "datum.value % 50 == 0", "value": -6}, "value": -3.5}}},
    "y": {"field": "eff", "type": "quantitative", "scale": {"domain": [0, 1], "nice": false},
          "axis": {"orient": "right", "values": [0.05,0.1,0.15,0.2,0.25,0.3,0.35,0.4,0.45,0.5,0.55,0.6,0.65,0.7,0.75,0.8,0.85,0.9,0.95,1.0], "labels": false, "title": null, "tickSize": {"condition": {"test": "abs(datum.value*5-round(datum.value*5)) < 0.001", "value": -6}, "value": -3.5}}},
    "text": {"field": "label"}
   }}
 ],
 "resolve": {"axis": {"x": "independent", "y": "independent"}}
}
], "spacing": 56},
{"hconcat": [
{"width": 414, "height": 413,
 "layer": [
  {"data": {"name": "curves"}, "transform": [{"filter": "datum.panel == 3"}],
   "mark": {"type": "line", "interpolate": "step-after", "clip": true},
   "encoding": {
    "x": {"field": "pt", "type": "quantitative", "scale": {"domain": [25, 200], "nice": false, "zero": false},
          "axis": {"values": [30,40,50,60,70,80,90,100,110,120,130,140,150,160,170,180,190,200], "labelExpr": "datum.value % 50 == 0 ? datum.label : ''", "tickSize": {"condition": {"test": "datum.value % 50 == 0", "value": -6}, "value": -3.5}, "labelPadding": 14, "title": "pₜ [GeV]", "titlePadding": 10}},
    "y": {"field": "eff", "type": "quantitative", "scale": {"domain": [0, 1], "nice": false},
          "axis": {"values": [0.05,0.1,0.15,0.2,0.25,0.3,0.35,0.4,0.45,0.5,0.55,0.6,0.65,0.7,0.75,0.8,0.85,0.9,0.95,1.0], "labelExpr": "abs(datum.value*5-round(datum.value*5)) < 0.001 ? format(datum.value, '.1f') : ''", "tickSize": {"condition": {"test": "abs(datum.value*5-round(datum.value*5)) < 0.001", "value": -6}, "value": -3.5}, "labelPadding": 8.5, "title": "Efficiency", "titlePadding": 12}},
    "color": {"field": "series", "type": "nominal", "scale": {"domain": ["1 mm: Reconstruction", "34 mm: Reconstruction", "1 mm: Acceptance", "34 mm: Acceptance"], "range": ["#009e82", "#8f4a0c", "#009e82", "#8f4a0c"]}, "legend": {"title": null}},
    "strokeDash": {"field": "series", "type": "nominal", "scale": {"domain": ["1 mm: Reconstruction", "34 mm: Reconstruction", "1 mm: Acceptance", "34 mm: Acceptance"], "range": [[1,0],[1,0],[9,4],[2.5,3.5]]}, "legend": {"title": null}},
    "strokeWidth": {"field": "series", "type": "nominal", "scale": {"domain": ["1 mm: Reconstruction", "34 mm: Reconstruction", "1 mm: Acceptance", "34 mm: Acceptance"], "range": [3, 2.5, 2.8, 2.2]}, "legend": null},
    "order": {"field": "i", "type": "quantitative"}
   }},
  {"data": {"name": "notes"}, "transform": [{"filter": "datum.panel == 3"}],
   "mark": {"type": "text", "fontSize": 21.5, "color": "#22b43c", "align": "center", "baseline": "middle"},
   "encoding": {
    "x": {"field": "pt", "type": "quantitative", "scale": {"domain": [25, 200], "nice": false, "zero": false},
          "axis": {"orient": "top", "values": [30,40,50,60,70,80,90,100,110,120,130,140,150,160,170,180,190,200], "labels": false, "title": null, "tickSize": {"condition": {"test": "datum.value % 50 == 0", "value": -6}, "value": -3.5}}},
    "y": {"field": "eff", "type": "quantitative", "scale": {"domain": [0, 1], "nice": false},
          "axis": {"orient": "right", "values": [0.05,0.1,0.15,0.2,0.25,0.3,0.35,0.4,0.45,0.5,0.55,0.6,0.65,0.7,0.75,0.8,0.85,0.9,0.95,1.0], "labels": false, "title": null, "tickSize": {"condition": {"test": "abs(datum.value*5-round(datum.value*5)) < 0.001", "value": -6}, "value": -3.5}}},
    "text": {"field": "label"}
   }}
 ],
 "resolve": {"axis": {"x": "independent", "y": "independent"}}
},
{"width": 398, "height": 413,
 "layer": [
  {"data": {"name": "curves"}, "transform": [{"filter": "datum.panel == 4"}],
   "mark": {"type": "line", "interpolate": "step-after", "clip": true},
   "encoding": {
    "x": {"field": "pt", "type": "quantitative", "scale": {"domain": [25, 200], "nice": false, "zero": false},
          "axis": {"values": [30,40,50,60,70,80,90,100,110,120,130,140,150,160,170,180,190,200], "labelExpr": "datum.value % 50 == 0 ? datum.label : ''", "tickSize": {"condition": {"test": "datum.value % 50 == 0", "value": -6}, "value": -3.5}, "labelPadding": 14, "title": "pₜ [GeV]", "titlePadding": 10}},
    "y": {"field": "eff", "type": "quantitative", "scale": {"domain": [0, 1], "nice": false},
          "axis": {"values": [0.05,0.1,0.15,0.2,0.25,0.3,0.35,0.4,0.45,0.5,0.55,0.6,0.65,0.7,0.75,0.8,0.85,0.9,0.95,1.0], "labelExpr": "abs(datum.value*5-round(datum.value*5)) < 0.001 ? format(datum.value, '.1f') : ''", "tickSize": {"condition": {"test": "abs(datum.value*5-round(datum.value*5)) < 0.001", "value": -6}, "value": -3.5}, "labelPadding": 8.5, "title": "Efficiency", "titlePadding": 12}},
    "color": {"field": "series", "type": "nominal", "scale": {"domain": ["1 mm: Reconstruction", "34 mm: Reconstruction", "1 mm: Acceptance", "34 mm: Acceptance"], "range": ["#009e82", "#8f4a0c", "#009e82", "#8f4a0c"]}, "legend": {"title": null}},
    "strokeDash": {"field": "series", "type": "nominal", "scale": {"domain": ["1 mm: Reconstruction", "34 mm: Reconstruction", "1 mm: Acceptance", "34 mm: Acceptance"], "range": [[1,0],[1,0],[9,4],[2.5,3.5]]}, "legend": {"title": null}},
    "strokeWidth": {"field": "series", "type": "nominal", "scale": {"domain": ["1 mm: Reconstruction", "34 mm: Reconstruction", "1 mm: Acceptance", "34 mm: Acceptance"], "range": [3, 2.5, 2.8, 2.2]}, "legend": null},
    "order": {"field": "i", "type": "quantitative"}
   }},
  {"data": {"name": "notes"}, "transform": [{"filter": "datum.panel == 4"}],
   "mark": {"type": "text", "fontSize": 21.5, "color": "#b3168e", "align": "center", "baseline": "middle"},
   "encoding": {
    "x": {"field": "pt", "type": "quantitative", "scale": {"domain": [25, 200], "nice": false, "zero": false},
          "axis": {"orient": "top", "values": [30,40,50,60,70,80,90,100,110,120,130,140,150,160,170,180,190,200], "labels": false, "title": null, "tickSize": {"condition": {"test": "datum.value % 50 == 0", "value": -6}, "value": -3.5}}},
    "y": {"field": "eff", "type": "quantitative", "scale": {"domain": [0, 1], "nice": false},
          "axis": {"orient": "right", "values": [0.05,0.1,0.15,0.2,0.25,0.3,0.35,0.4,0.45,0.5,0.55,0.6,0.65,0.7,0.75,0.8,0.85,0.9,0.95,1.0], "labels": false, "title": null, "tickSize": {"condition": {"test": "abs(datum.value*5-round(datum.value*5)) < 0.001", "value": -6}, "value": -3.5}}},
    "text": {"field": "label"}
   }}
 ],
 "resolve": {"axis": {"x": "independent", "y": "independent"}}
}
], "spacing": 56}
],
"spacing": 16,
"config": {
 "font": "Liberation Sans",
 "view": {"stroke": "#8a8a8a", "strokeWidth": 1.5},
 "axis": {"labelFont": "Liberation Sans", "labelFontSize": 24, "titleFont": "Liberation Sans", "titleFontSize": 22.5, "titleFontWeight": "normal", "labelColor": "#000000", "titleColor": "#000000", "tickColor": "#000000", "tickWidth": 1, "domain": false, "grid": false, "labelFlush": false, "labelOverlap": false},
 "legend": {"orient": "bottom", "columns": 2, "symbolType": "stroke", "symbolSize": 2200, "symbolStrokeWidth": 2.5, "labelFont": "Liberation Sans", "labelFontSize": 25, "labelLimit": 0, "labelColor": "#000000", "columnPadding": 11, "rowPadding": 0, "labelOffset": 3, "offset": 9, "layout": {"bottom": {"anchor": "middle"}}}
}
}
